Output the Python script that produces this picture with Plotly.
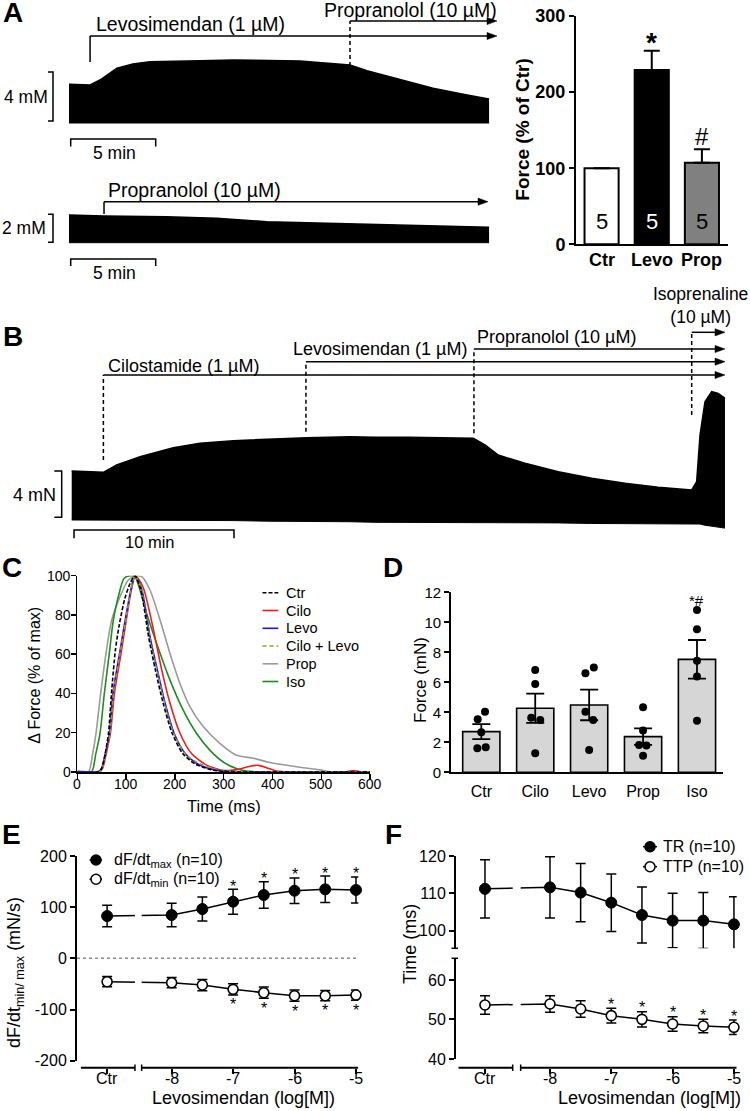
import plotly.graph_objects as go

W, H = 750, 1111
def PX(x): return x / W
def PY(y): return 1 - y / H
FONT = "Arial, Liberation Sans, Helvetica, sans-serif"

# ======================= DATA =======================
# Panel A, upper recording: time (min) and peak twitch force above diastolic level (mN)
a1_time  = [0, 1.24, 1.82, 2.82, 3.76, 4.76, 7.71, 9.65, 13.59, 15.53, 16.53, 17.53, 18.47, 19.47, 21.41, 23.41, 24.71]
a1_force = [3.16, 3.10, 3.51, 4.47, 4.82, 5.00, 5.09, 5.14, 5.06, 4.87, 4.73, 4.27, 3.92, 3.51, 2.83, 2.29, 1.96]
a1_event_names = ["Levosimendan (1 µM)", "Propranolol (10 µM)"]
a1_event_times = [1.24, 16.53]

# Panel A, lower recording
a2_time  = [0, 2.06, 5.75, 8.69, 11.63, 15.55, 19.47, 22.41, 24.71]
a2_force = [1.98, 1.91, 1.86, 1.74, 1.50, 1.39, 1.26, 1.19, 1.10]
a2_event_names = ["Propranolol (10 µM)"]
a2_event_times = [2.06]

# Panel A, bar chart
a_groups = ["Ctr", "Levo", "Prop"]
a_force_pct = [100, 229, 107]
a_sem = [0, 25.4, 18]
a_n = [5, 5, 5]
a_sig = ["", "*", "#"]

# Panel B recording
b_time = [0, 1.98, 2.81, 4.27, 6.35, 8.02, 10.10, 12.19, 14.69, 17.39, 18.96, 21.04, 23.13, 25.10,
          25.83, 26.66, 28.33, 30.41, 32.50, 34.58, 36.66, 38.75, 39.06, 39.27, 39.58, 40.00, 40.41, 40.83]
b_top = [4.22, 4.11, 4.74, 5.46, 6.23, 6.61, 6.84, 6.98, 7.09, 7.18, 7.13, 7.13, 7.09, 7.04,
         6.47, 5.60, 4.89, 4.16, 3.59, 3.16, 2.82, 2.59, 3.30, 7.33, 10.20, 11.06, 10.92, 10.49]
b_bottom = [0, 0, 0, 0, 0, 0, -0.05, -0.1, -0.1, -0.15, -0.2, -0.2, -0.25, -0.25,
            -0.25, -0.25, -0.25, -0.25, -0.3, -0.3, -0.3, -0.3, -0.3, -0.35, -0.45, -0.55, -0.65, -0.7]
b_event_names = ["Cilostamide (1 µM)", "Levosimendan (1 µM)", "Propranolol (10 µM)", "Isoprenaline<br>(10 µM)"]
b_event_times = [1.98, 14.64, 25.14, 38.75]

# Panel C: normalised twitch time courses (ms, % of max)
c_names = ["Ctr", "Cilo", "Levo", "Cilo + Levo", "Prop", "Iso"]
c_t_ctr  = [0, 44, 50, 57, 64, 70, 78, 86, 97, 108, 118, 130, 146, 160, 176, 194, 216, 240, 274, 300, 330, 600]
c_v_ctr  = [0, 0, 2, 9, 20, 40, 62, 75, 88, 96, 100, 93, 69, 52, 35, 20, 9.4, 4.3, 1.2, 0.3, 0, 0]
c_t_cilo = [0, 45, 52, 59, 68, 76, 90, 102, 111, 119, 135, 159, 173, 190, 210, 234, 265, 299, 327, 354, 371, 388, 408, 440, 550, 566, 582, 600]
c_v_cilo = [0, 0, 2, 9, 20, 40, 61, 80, 93, 100, 94, 69, 52, 35, 20, 9.4, 3.5, 0.8, 1.2, 2.9, 3.4, 2.2, 0.5, 0, 0, 0.8, 0, 0]
c_t_levo = [0, 44, 50, 57, 66, 73, 87, 100, 110, 118, 132, 149, 164, 180, 198, 221, 245, 279, 306, 340, 600]
c_v_levo = [0.4, 0.4, 2, 9, 20, 40, 61, 80, 93, 100, 93, 69, 52, 35, 20, 9.4, 4.3, 1.2, 0.3, 0, 0]
c_t_cl   = [0, 45, 51, 58, 67, 74, 88, 101, 110, 118, 132, 148, 163, 179, 197, 220, 246, 282, 310, 345, 600]
c_v_cl   = [0, 0, 2, 9, 20, 40, 61, 80, 93, 100, 93, 69, 52, 35, 20, 9.5, 4.8, 1.5, 0.4, 0, 0]
c_t_prop = [0, 22.6, 31.5, 38.3, 47.9, 58.8, 70.5, 87.5, 104.6, 122, 132, 149, 169.6, 190, 210.5, 231, 258.4, 292.6, 326.7, 360.9, 395, 429, 463, 497.5, 520, 600]
c_v_prop = [0, 0, 9.4, 19.6, 40, 60.4, 77.4, 89.3, 97.8, 100, 99.5, 92.7, 77.4, 60.4, 45, 33.2, 23, 14.5, 8.5, 7.0, 4.8, 3.4, 2.2, 1.1, 0, 0]
c_t_iso  = [0, 29, 38, 46.5, 55.4, 65.6, 73.8, 84, 95.7, 108, 118, 142, 162.6, 190, 217, 244.5, 272, 299, 327, 354, 375, 600]
c_v_iso  = [0, 0, 9.4, 19.6, 40, 60.4, 77.4, 89.3, 98.6, 100, 99.5, 80.8, 65.5, 46.8, 31.5, 19.6, 11, 5.1, 1.7, 0.3, 0, 0]
c_xticks = [0, 100, 200, 300, 400, 500, 600]
c_yticks = [0, 20, 40, 60, 80, 100]

# Panel D: force (mN)
d_groups = ["Ctr", "Cilo", "Levo", "Prop", "Iso"]
d_mean = [2.71, 4.27, 4.49, 2.38, 7.53]
d_sem = [0.5, 0.98, 1.02, 0.55, 1.29]
d_points = [[3.53, 4.04, 2.67, 1.60, 1.67],
            [6.82, 5.89, 3.64, 3.49, 1.27],
            [6.60, 6.98, 4.04, 3.49, 1.49],
            [4.33, 2.78, 1.82, 1.78, 1.11],
            [10.82, 9.53, 7.44, 6.38, 3.44]]
d_jitter = [[-0.067, 0.069, 0, -0.074, 0.082],
            [0, 0, -0.074, 0.093, 0],
            [-0.069, 0.087, -0.069, 0.074, 0],
            [0, 0, -0.074, 0.062, 0],
            [0, 0, 0, 0, 0]]
d_sig = ["", "", "", "", "*#"]

# Panel E: dF/dt (mN/s) vs levosimendan
e_conc = ["Ctr", "-8", "-7.5", "-7", "-6.5", "-6", "-5.5", "-5"]
e_max_mean = [82.7, 84.7, 96.4, 110.7, 123.8, 132.2, 134.9, 133.6]
e_max_sem = [21, 23, 23.5, 24.4, 26, 25, 26, 25.4]
e_min_mean = [-45.6, -47.6, -52.1, -60.6, -67.1, -73.0, -73.0, -71.7]
e_min_sem = [10, 10, 11, 11, 11, 11, 10, 10]
e_sig = [False, False, False, True, True, True, True, True]
x_ticktext = ["Ctr", "-8", "-7", "-6", "-5"]

# Panel F: time parameters (ms)
f_conc = ["Ctr", "-8", "-7.5", "-7", "-6.5", "-6", "-5.5", "-5"]
f_tr_mean = [111.2, 111.6, 110.2, 107.5, 104.2, 102.7, 102.7, 101.7]
f_tr_sem = [7.8, 8.2, 7.8, 7.7, 7.5, 7.3, 7.5, 7.4]
f_ttp_mean = [53.67, 53.92, 52.66, 50.97, 50.04, 48.86, 48.35, 48.02]
f_ttp_sem = [2.36, 2.1, 2.1, 1.86, 1.94, 1.86, 1.69, 1.84]
f_sig = [False, False, False, True, True, True, True, True]

# ======================= HELPERS =======================
fig = go.Figure()
ann, shapes = [], []
AX = dict(showgrid=False, zeroline=False, linecolor='black', tickcolor='black', fixedrange=True, automargin=False)

def txt(x, y, s, size, xanchor='center', yanchor='middle', color='black', weight='normal', angle=0):
    ann.append(dict(x=PX(x), y=PY(y), xref='paper', yref='paper', text=s, showarrow=False,
                    xanchor=xanchor, yanchor=yanchor, textangle=angle,
                    font=dict(size=size, color=color, family=FONT, weight=weight)))

def xlab(xv, xref, ypx, s, size, weight='normal'):
    ann.append(dict(x=xv, y=PY(ypx), xref=xref, yref='paper', text=s, showarrow=False,
                    xanchor='center', yanchor='middle', font=dict(size=size, color='black', family=FONT, weight=weight)))

def ylab(yv, yref, xpx, s, size):
    ann.append(dict(x=PX(xpx), y=yv, xref='paper', yref=yref, text=s, showarrow=False,
                    xanchor='right', yanchor='middle', font=dict(size=size, color='black', family=FONT)))

def seg(x0, y0, x1, y1, xref='paper', yref='paper', width=1.5, dash='solid', color='black'):
    shapes.append(dict(type='line', x0=x0, y0=y0, x1=x1, y1=y1, xref=xref, yref=yref,
                       line=dict(color=color, width=width, dash=dash), layer='above'))

def arrow(xr, yr, sx, sy, x0, x1, y):
    L, hh = 10 / sx, 3.6 / sy
    seg(x0, y, x1 - 0.5 * L, y, xr, yr)
    shapes.append(dict(type='path', path=f"M {x1-L},{y+hh} L {x1},{y} L {x1-L},{y-hh} Z",
                       xref=xr, yref=yr, fillcolor='black', line=dict(color='black', width=0.5), layer='above'))

def path(p, xr, yr, width=1.5):
    shapes.append(dict(type='path', path=p, xref=xr, yref=yr, line=dict(color='black', width=width), layer='above'))

def recording(t, top, base, xr, yr):
    fig.add_trace(go.Scatter(x=t, y=base, mode='lines', line=dict(color='black', width=1),
                             xaxis=xr, yaxis=yr, hoverinfo='skip', showlegend=False))
    fig.add_trace(go.Scatter(x=t, y=top, mode='lines', line=dict(color='black', width=1.5), fill='tonexty',
                             fillcolor='black', xaxis=xr, yaxis=yr, hoverinfo='skip', showlegend=False))

def hx(px0, px1, origin, ppu):
    return dict(domain=[PX(px0), PX(px1)], range=[(px0 - origin) / ppu, (px1 - origin) / ppu],
                visible=False, fixedrange=True, automargin=False)

def hy(px_top, px_bot, origin, ppu):
    return dict(domain=[PY(px_bot), PY(px_top)], range=[(origin - px_bot) / ppu, (origin - px_top) / ppu],
                visible=False, fixedrange=True, automargin=False)

layout = {}

# ======================= PANEL A recordings =======================
A_T0, A_PPM = 69, 17.0
A1_BASE, A1_PPU = 123, 12.25
A2_BASE, A2_PPU = 242.7, 14.0
at = lambda p: (p - A_T0) / A_PPM
ay1 = lambda p: (A1_BASE - p) / A1_PPU
ay2 = lambda p: (A2_BASE - p) / A2_PPU

layout['xaxis'] = dict(hx(40, 500, A_T0, A_PPM), anchor='y')
layout['yaxis'] = dict(hy(0, 160, A1_BASE, A1_PPU), anchor='x')
layout['xaxis2'] = dict(hx(40, 500, A_T0, A_PPM), anchor='y2')
layout['yaxis2'] = dict(hy(170, 285, A2_BASE, A2_PPU), anchor='x2')

recording(a1_time, a1_force, [0.0] * len(a1_time), 'x', 'y')
recording(a2_time, a2_force, [0.0] * len(a2_time), 'x2', 'y2')

a1_arrow_y = [36, 21]
a1_drop_y = [62, 66]
a1_dash = ['solid', '4px,3px']
for tt, ya, yd, ds in zip(a1_event_times, a1_arrow_y, a1_drop_y, a1_dash):
    seg(tt, ay1(yd), tt, ay1(ya), 'x', 'y', dash=ds)
    arrow('x', 'y', A_PPM, A1_PPU, tt, at(497), ay1(ya))
txt(94, 24, a1_event_names[0], 19.5, xanchor='left')
txt(322, 10, a1_event_names[1], 19.5, xanchor='left')
y0 = ay1(121)
path(f"M {at(48)},{y0} L {at(53)},{y0} L {at(53)},{y0+4} L {at(48)},{y0+4}", 'x', 'y')
txt(50, 97, "4 mM", 17.5, xanchor='right')
x0 = at(70.7)
path(f"M {x0},{ay1(146.5)} L {x0},{ay1(139)} L {x0+5},{ay1(139)} L {x0+5},{ay1(146.5)}", 'x', 'y')
txt(115, 153.5, "5 min", 17.5)

seg(a2_event_times[0], ay2(214), a2_event_times[0], ay2(201.7), 'x2', 'y2')
arrow('x2', 'y2', A_PPM, A2_PPU, a2_event_times[0], at(488), ay2(201.7))
txt(106, 190, a2_event_names[0], 19.5, xanchor='left')
y0 = ay2(242.3)
path(f"M {at(48)},{y0} L {at(53)},{y0} L {at(53)},{y0+2} L {at(48)},{y0+2}", 'x2', 'y2')
txt(48, 228, "2 mM", 17.5, xanchor='right')
path(f"M {x0},{ay2(266)} L {x0},{ay2(259)} L {x0+5},{ay2(259)} L {x0+5},{ay2(266)}", 'x2', 'y2')
txt(115, 273, "5 min", 17.5)

# ======================= PANEL A bar chart =======================
layout['xaxis3'] = dict(AX, domain=[PX(576), PX(728)], range=[-0.51, 2.52], anchor='y3', type='category',
                        categoryorder='array', categoryarray=a_groups, showline=True, linewidth=2, ticks='',
                        showticklabels=False)
layout['yaxis3'] = dict(AX, domain=[PY(244.3), PY(16)], range=[0, 300], anchor='x3', showline=True, linewidth=2,
                        ticks='outside', ticklen=5, tickwidth=2, tickvals=[0, 100, 200, 300],
                        tickfont=dict(size=18, weight='bold', family=FONT, color='black'))
fig.add_trace(go.Bar(x=a_groups, y=a_force_pct, width=0.68, xaxis='x3', yaxis='y3',
                     marker=dict(color=['white', 'black', '#808080'], line=dict(color='black', width=2)),
                     error_y=dict(type='data', symmetric=False, array=a_sem, arrayminus=[0] * 3,
                                  thickness=2, width=8, color='black'), showlegend=False))
for g in a_groups:
    xlab(g, 'x3', 260, g, 18, weight='bold')
for g, n, c in zip(a_groups, a_n, ['black', 'white', 'black']):
    ann.append(dict(x=g, y=30, xref='x3', yref='y3', text=str(n), showarrow=False,
                    font=dict(size=22, color=c, family=FONT)))
for g, m, s, sig, sh, fs in zip(a_groups, a_force_pct, a_sem, a_sig, [0, 8, 12.5], [26, 28, 24]):
    if sig:
        ann.append(dict(x=g, y=m + s, xref='x3', yref='y3', text=sig, showarrow=False, yanchor='middle',
                        yshift=sh, font=dict(size=fs, color='black', family=FONT, weight='bold' if sig == '*' else 'normal')))
txt(521.7, 129, "Force (% of Ctr)", 19, angle=-90, weight='bold')

# ======================= PANEL B recording =======================
B_T0, B_PPM, B_BASE, B_PPU = 71.7, 16.0, 520, 11.6
bt = lambda p: (p - B_T0) / B_PPM
by = lambda p: (B_BASE - p) / B_PPU
layout['xaxis4'] = dict(hx(30, 745, B_T0, B_PPM), anchor='y4')
layout['yaxis4'] = dict(hy(320, 550, B_BASE, B_PPU), anchor='x4')
recording(b_time, b_top, b_bottom, 'x4', 'y4')
b_arrow_y = [375, 361.7, 349, 332.3]
b_drop_y = [460, 431.7, 433.3, 415]
for tt, ya, yd in zip(b_event_times, b_arrow_y, b_drop_y):
    seg(tt, by(yd), tt, by(ya), 'x4', 'y4', dash='4px,3px')
    arrow('x4', 'y4', B_PPM, B_PPU, tt, bt(725), by(ya))
b_label_pos = [(106, 365.7, 18), (290.7, 349, 18), (475, 336.7, 18), (651, 305, 17.5)]
for name, (lx, ly, fs) in zip(b_event_names, b_label_pos):
    txt(lx, ly, name, fs, xanchor='left')
y0 = by(517.3)
path(f"M {bt(54.3)},{y0} L {bt(61.7)},{y0} L {bt(61.7)},{y0+4} L {bt(54.3)},{y0+4}", 'x4', 'y4')
txt(58, 495, "4 mN", 18, xanchor='right')
x0 = bt(74)
path(f"M {x0},{by(538.3)} L {x0},{by(530)} L {x0+10},{by(530)} L {x0+10},{by(538.3)}", 'x4', 'y4')
txt(150, 542, "10 min", 16.5)

# ======================= PANEL C =======================
layout['xaxis5'] = dict(AX, domain=[PX(77.3), PX(370.1)], range=[0, 600], anchor='y5', showline=True, linewidth=1.5,
                        ticks='outside', ticklen=5, tickwidth=1.5, tickvals=c_xticks, showticklabels=False)
layout['yaxis5'] = dict(AX, domain=[PY(772), PY(575.7)], range=[0, 100], anchor='x5', showline=True, linewidth=1.5,
                        ticks='outside', ticklen=5, tickwidth=1.5, tickvals=c_yticks, showticklabels=False)
for v in c_xticks:
    xlab(v, 'x5', 783.5, str(v), 14)
for v in c_yticks:
    ylab(v, 'y5', 72.5, str(v), 14)
c_series = [(c_t_ctr, c_v_ctr), (c_t_cilo, c_v_cilo), (c_t_levo, c_v_levo), (c_t_cl, c_v_cl), (c_t_prop, c_v_prop), (c_t_iso, c_v_iso)]
c_colors = ['black', '#ee1c1c', '#1414ff', '#9a9a2a', '#9a9a9a', '#1e8c1e']
c_dash = ['4px,2px', 'solid', 'solid', '4px,3px', 'solid', 'solid']
c_order = [4, 5, 1, 2, 3, 0]
for i in c_order:
    tx, vy = c_series[i]
    fig.add_trace(go.Scatter(x=tx, y=vy, mode='lines', line=dict(color=c_colors[i], width=1.6, dash=c_dash[i],
                             shape='spline', smoothing=0.7), xaxis='x5', yaxis='y5', showlegend=False, name=c_names[i]))
c_leg_y = [592.7, 610.5, 628.3, 646, 663.8, 681.5]
for i, ly in enumerate(c_leg_y):
    seg(PX(262.5), PY(ly), PX(278.3), PY(ly), width=1.6, dash=c_dash[i], color=c_colors[i])
    txt(284, ly, c_names[i], 14.5, xanchor='left')
txt(224, 806, "Time (ms)", 16.5)
txt(34.3, 675.5, "Δ Force (% of max)", 16, angle=-90)

# ======================= PANEL D =======================
d_x = list(range(len(d_groups)))
layout['xaxis6'] = dict(AX, domain=[PX(451), PX(723.3)], range=[-0.562, 4.488], anchor='y6', showline=True, linewidth=1.8,
                        ticks='', tickvals=d_x, ticktext=d_groups, ticklabelstandoff=4,
                        tickfont=dict(size=16, family=FONT, color='black'))
layout['yaxis6'] = dict(AX, domain=[PY(772.3), PY(592.3)], range=[0, 12], anchor='x6', showline=True, linewidth=1.8,
                        ticks='outside', ticklen=5, tickwidth=1.8, dtick=2, tickfont=dict(size=15, family=FONT, color='black'))
fig.add_trace(go.Bar(x=d_x, y=d_mean, width=0.69, xaxis='x6', yaxis='y6',
                     marker=dict(color='#d6d6d6', line=dict(color='black', width=1.6)),
                     error_y=dict(type='data', array=d_sem, thickness=1.8, width=9, color='black'), showlegend=False))
px_, py_ = [], []
for i, (pts, jit) in enumerate(zip(d_points, d_jitter)):
    for v, j in zip(pts, jit):
        px_.append(d_x[i] + j)
        py_.append(v)
fig.add_trace(go.Scatter(x=px_, y=py_, mode='markers', marker=dict(color='black', size=8),
                         xaxis='x6', yaxis='y6', showlegend=False, cliponaxis=False))
for i, s in enumerate(d_sig):
    if s:
        ann.append(dict(x=d_x[i], y=max(d_points[i]), xref='x6', yref='y6', text=s, showarrow=False,
                        yanchor='middle', yshift=10, font=dict(size=15, family=FONT, color='black')))
txt(420, 680, "Force (mN)", 17, angle=-90)

# ======================= PANEL E =======================
E_CTR = -9.05
e_x = [E_CTR if c == "Ctr" else float(c) for c in e_conc]
e_tickvals = [E_CTR, -8, -7, -6, -5]
layout['xaxis7'] = dict(AX, domain=[PX(80.7), PX(358.3)], range=[-9.48, -4.962], anchor='free', position=PY(1067.7),
                        showline=False, ticks='outside', ticklen=5, tickwidth=2, tickvals=e_tickvals, showticklabels=False)
layout['yaxis7'] = dict(AX, domain=[PY(1060.7), PY(856)], range=[-200, 200], anchor='free', position=PX(76),
                        showline=True, linewidth=2, ticks='outside', ticklen=5, tickwidth=2,
                        tickvals=[-200, -100, 0, 100, 200], ticktext=["-200", "-100", "0", "100", "200"],
                        tickfont=dict(size=16, family=FONT, color='black'))
for v, s in zip(e_tickvals, x_ticktext):
    xlab(v, 'x7', 1078.5, s, 16)
fig.add_trace(go.Scatter(x=e_x, y=e_max_mean, mode='lines+markers', xaxis='x7', yaxis='y7', showlegend=False,
                         line=dict(color='black', width=1.5), marker=dict(size=11, color='black', line=dict(color='black', width=1)),
                         error_y=dict(type='data', array=e_max_sem, thickness=1.5, width=5, color='black'), cliponaxis=False))
fig.add_trace(go.Scatter(x=e_x, y=e_min_mean, mode='lines+markers', xaxis='x7', yaxis='y7', showlegend=False,
                         line=dict(color='black', width=1.5), marker=dict(size=10, color='white', line=dict(color='black', width=1.6)),
                         error_y=dict(type='data', array=e_min_sem, thickness=1.5, width=5, color='black'), cliponaxis=False))
for xv, m, s, sg in zip(e_x, e_max_mean, e_max_sem, e_sig):
    if sg:
        ann.append(dict(x=xv, y=m + s, xref='x7', yref='y7', text='*', showarrow=False, yanchor='middle', yshift=3,
                        font=dict(size=16, family=FONT, color='black')))
for xv, m, s, sg in zip(e_x, e_min_mean, e_min_sem, e_sig):
    if sg:
        ann.append(dict(x=xv, y=m - s, xref='x7', yref='y7', text='*', showarrow=False, yanchor='middle', yshift=-10,
                        font=dict(size=16, family=FONT, color='black')))
shapes.append(dict(type='rect', xref='x7', yref='paper', x0=-8.597, x1=-8.488, y0=PY(1058), y1=PY(858),
                   fillcolor='white', line=dict(width=0), layer='above'))
seg(PX(77), 0, PX(358.3), 0, 'paper', 'y7', width=1.5, dash='dot', color='#8c8c8c')
seg(-9.48, PY(1067.7), -8.597, PY(1067.7), 'x7', 'paper', width=2)
seg(-8.488, PY(1067.7), -4.962, PY(1067.7), 'x7', 'paper', width=2)
for bx in [-8.597, -8.488]:
    seg(bx, PY(1064.5), bx, PY(1071), 'x7', 'paper', width=1.5)
e_leg = [(860, "dF/dt<sub>max</sub> (n=10)", 'black'), (879.3, "dF/dt<sub>min</sub> (n=10)", 'white')]
for ly, lab, fc in e_leg:
    seg(PX(89.5), PY(ly), PX(102), PY(ly), width=1.5)
    shapes.append(dict(type='circle', xref='paper', yref='paper', x0=PX(91), x1=PX(101), y0=PY(ly + 5), y1=PY(ly - 5),
                       fillcolor=fc, line=dict(color='black', width=1.5), layer='above'))
    txt(111.7, ly, lab, 16, xanchor='left')
txt(244, 1097.5, "Levosimendan (log[M])", 18)
txt(15, 973, "dF/dt<sub>min/ max</sub> (mN/s)", 18, angle=-90)

# ======================= PANEL F =======================
F_CTR = -9.06
f_x = [F_CTR if c == "Ctr" else float(c) for c in f_conc]
f_tickvals = [F_CTR, -8, -7, -6, -5]
layout['xaxis8'] = dict(AX, domain=[PX(458.3), PX(736.7)], range=[-9.495, -4.955], anchor='free', position=PY(1067.7),
                        showline=False, ticks='outside', ticklen=5, tickwidth=2, tickvals=f_tickvals, showticklabels=False)
layout['yaxis8'] = dict(AX, domain=[PY(948.3), PY(856)], range=[95.28, 120], anchor='free', position=PX(455),
                        showline=True, linewidth=2, ticks='outside', ticklen=5, tickwidth=2, tickvals=[100, 110, 120],
                        tickfont=dict(size=16, family=FONT, color='black'))
layout['yaxis9'] = dict(AX, domain=[PY(1059), PY(958.3)], range=[40, 65.49], anchor='free', position=PX(455),
                        showline=True, linewidth=2, ticks='outside', ticklen=5, tickwidth=2, tickvals=[40, 50, 60],
                        tickfont=dict(size=16, family=FONT, color='black'))
for v, s in zip(f_tickvals, x_ticktext):
    xlab(v, 'x8', 1078.5, s, 16)
fig.add_trace(go.Scatter(x=f_x, y=f_tr_mean, mode='lines+markers', xaxis='x8', yaxis='y8', showlegend=False,
                         line=dict(color='black', width=1.5), marker=dict(size=11, color='black', line=dict(color='black', width=1)),
                         error_y=dict(type='data', array=f_tr_sem, thickness=1.5, width=5, color='black'), cliponaxis=False))
fig.add_trace(go.Scatter(x=f_x, y=f_ttp_mean, mode='lines+markers', xaxis='x8', yaxis='y9', showlegend=False,
                         line=dict(color='black', width=1.5), marker=dict(size=10, color='white', line=dict(color='black', width=1.6)),
                         error_y=dict(type='data', array=f_ttp_sem, thickness=1.5, width=5, color='black'), cliponaxis=False))
for xv, m, s, sg in zip(f_x, f_ttp_mean, f_ttp_sem, f_sig):
    if sg:
        ann.append(dict(x=xv, y=m + s, xref='x8', yref='y9', text='*', showarrow=False, yanchor='middle', yshift=4,
                        font=dict(size=16, family=FONT, color='black')))
shapes.append(dict(type='rect', xref='x8', yref='paper', x0=-8.608, x1=-8.478, y0=PY(1058), y1=PY(858),
                   fillcolor='white', line=dict(width=0), layer='above'))
seg(-9.495, PY(1067.7), -8.608, PY(1067.7), 'x8', 'paper', width=2)
seg(-8.478, PY(1067.7), -4.955, PY(1067.7), 'x8', 'paper', width=2)
for bx in [-8.608, -8.478]:
    seg(bx, PY(1064.5), bx, PY(1071), 'x8', 'paper', width=1.5)
for byy in [948.3, 958.3]:
    seg(PX(451.5), PY(byy), PX(458), PY(byy), width=1.5)
f_leg = [(846.7, "TR (n=10)", 'black'), (866.7, "TTP (n=10)", 'white')]
for ly, lab, fc in f_leg:
    seg(PX(643), PY(ly), PX(657), PY(ly), width=1.5)
    shapes.append(dict(type='circle', xref='paper', yref='paper', x0=PX(645), x1=PX(655), y0=PY(ly + 5), y1=PY(ly - 5),
                       fillcolor=fc, line=dict(color='black', width=1.5), layer='above'))
    txt(661, ly, lab, 16, xanchor='left')
txt(649, 1097.5, "Levosimendan (log[M])", 18)
txt(410, 944, "Time (ms)", 18, angle=-90)

# ======================= PANEL LETTERS =======================
for L, (lx, ly) in {"A": (13, 13), "B": (13, 337), "C": (12, 567), "D": (393, 567), "E": (11, 834), "F": (393, 834)}.items():
    txt(lx, ly, L, 28, weight='bold')

fig.update_layout(width=W, height=H, margin=dict(l=0, r=0, t=0, b=0, autoexpand=False), paper_bgcolor='white',
                  plot_bgcolor='white', showlegend=False, font=dict(family=FONT, color='black'),
                  annotations=ann, shapes=shapes, **layout)
fig.write_html("out.html", config={'displayModeBar': False, 'staticPlot': True},
               post_script="document.body.style.margin='0px';document.body.style.padding='0px';document.body.style.overflow='hidden';")
